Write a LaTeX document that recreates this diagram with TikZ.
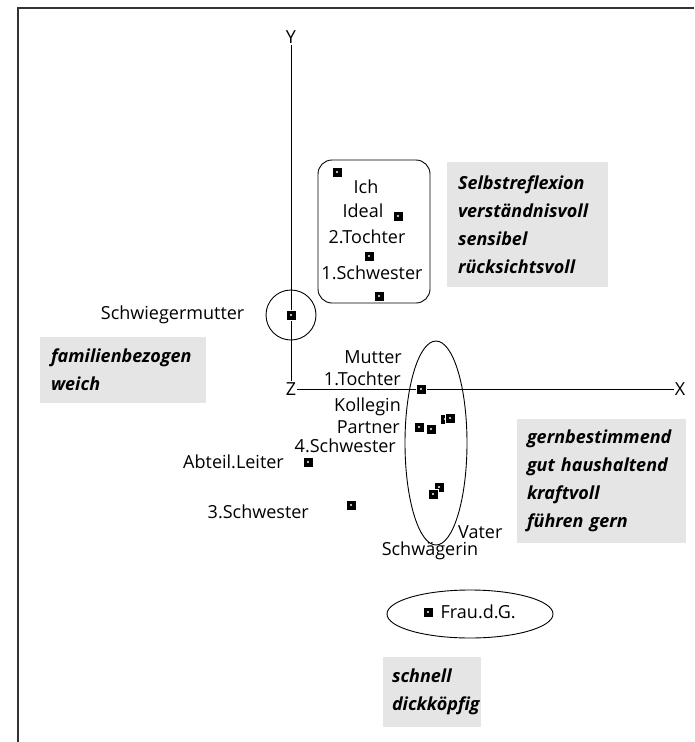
\documentclass[tikz,border=0pt]{standalone}
\usepackage{fontspec}
\setmainfont{Open Sans}
\usetikzlibrary{positioning,shapes.geometric}

\begin{document}
\begin{tikzpicture}[x=1pt, y=-1pt,
    lbl/.style={inner sep=1pt, font=\fontsize{18}{20}\selectfont},
    pt/.style={rectangle, fill=black, draw=white, line width=1, minimum size=10, inner sep=0,
      path picture={\fill[white] (path picture bounding box.center) circle (1.1);}},
    tag/.style={fill=black!10, align=left, inner xsep=11, inner ysep=0,
      font=\fontsize{18}{28}\selectfont\bfseries\itshape},
    ring/.style={draw, line width=0.9, inner sep=0},
]
    \useasboundingbox (0,0) rectangle (694,742);
    \draw[line width=1.3, black!80] (18,742) |- (694,8);

    % Axes
    \node[lbl] (ylab) at (291,37)  {Y};
    \node[lbl] (zlab) at (291,389) {Z};
    \node[lbl] (xlab) at (680,389) {X};
    \draw[line width=0.8] (ylab) -- (zlab);
    \draw[line width=0.8] (zlab) -- (xlab);

    % Groups
    \node[ring, rounded corners=14, minimum width=112, minimum height=143] (grpIch) at (374,231.5) {};
    \node[ring, circle, minimum size=50] (grpSchwm) at (291,315) {};
    \node[ring, ellipse, minimum width=62, minimum height=204] (grpMutter) at (436,443) {};
    \node[ring, ellipse, minimum width=166, minimum height=48] (grpFrau) at (470,614) {};

    % Markers
    \node[pt] (mIch)    at (337,172) {};
    \node[pt] (mIdeal)  at (398,216) {};
    \node[pt] (mToch2)  at (369,256) {};
    \node[pt] (mSchw1)  at (379,296) {};
    \node[pt] (mSchwm)  at (291,315) {};
    \node[pt] (mToch1)  at (421,389) {};
    \node[pt] (mHidden) at (445,419) {};
    \node[pt] (mKoll)   at (450,418) {};
    \node[pt] (mPartner) at (419,427) {};
    \node[pt] (mSchw4)  at (431,429) {};
    \node[pt] (mVater)  at (439,487) {};
    \node[pt] (mSchwag) at (433,494) {};
    \node[pt] (mAbteil) at (308,462) {};
    \node[pt] (mSchw3)  at (351,505) {};
    \node[pt] (mFrau)   at (428,612) {};

    % Labels
    \node[lbl] (lIch)    at (366,187) {Ich};
    \node[lbl] (lIdeal)  at (363,211) {Ideal};
    \node[lbl] (lToch2)  at (367,237) {2.Tochter};
    \node[lbl] (lSchw1)  at (372,273) {1.Schwester};
    \node[lbl, left=40pt of mSchwm] (lSchwm) {Schwiegermutter};
    \node[lbl, anchor=east] (lMutter)  at (403,357) {Mutter};
    \node[lbl, anchor=east] (lToch1)   at (402,379) {1.Tochter};
    \node[lbl, anchor=east] (lKoll)    at (402,407) {Kollegin};
    \node[lbl, anchor=east] (lPartner) at (401,427) {Partner};
    \node[lbl, anchor=east] (lSchw4)   at (397,446) {4.Schwester};
    \node[lbl, anchor=east] (lAbteil)  at (285,462) {Abteil.Leiter};
    \node[lbl, anchor=east] (lSchw3)   at (310,512) {3.Schwester};
    \node[lbl, anchor=west] (lVater)   at (457,532) {Vater};
    \node[lbl] (lSchwag) at (430,551) {Schwägerin};
    \node[lbl, right=6pt of mFrau] (lFrau) {Frau.d.G.};

    % Traits
    \node[tag, minimum width=161, minimum height=125, text width=139] (tSelbst) at (527.5,224.5)
        {Selbstreflexion\\verständnisvoll\\sensibel\\rücksichtsvoll};
    \node[tag, minimum width=166, minimum height=66, text width=144] (tFamilie) at (123,370)
        {familienbezogen\\weich};
    \node[tag, minimum width=169, minimum height=124, text width=149, inner xsep=10] (tGern) at (601.5,481)
        {gernbestimmend\\gut haushaltend\\kraftvoll\\führen gern};
    \node[tag, minimum width=98, minimum height=70, text width=80, inner xsep=9] (tSchnell) at (432,692)
        {schnell\\dickköpfig};
\end{tikzpicture}
\end{document}
